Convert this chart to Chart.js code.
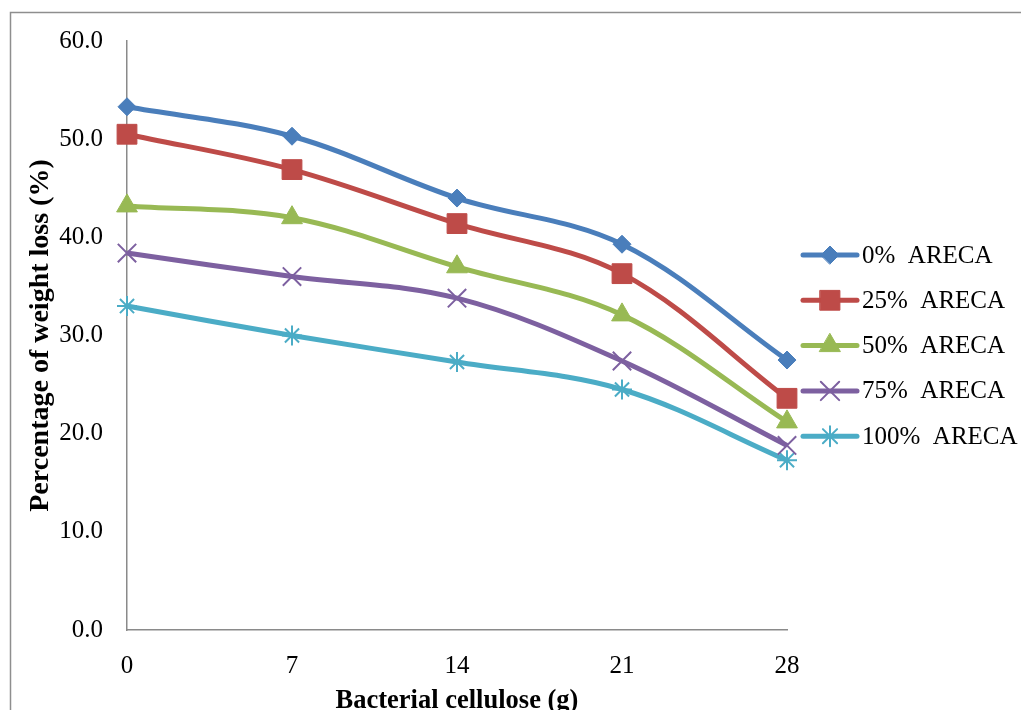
<!DOCTYPE html>
<html>
<head>
<meta charset="utf-8">
<script src="https://cdn.jsdelivr.net/npm/chart.js@4.4.1/dist/chart.umd.min.js"></script>
<style>
  html, body { margin: 0; padding: 0; background: #fff; }
  #wrap { position: relative; width: 1021px; height: 710px; }
</style>
</head>
<body>
<div id="wrap"><canvas id="c" width="1021" height="710"></canvas></div>
<script>
// Bacterial cellulose amounts (g)
const categories = ['0', '7', '14', '21', '28'];

// Weight loss (%) for each ARECA level
const areca0   = [53.3, 50.3, 44.0, 39.3, 27.5];
const areca25  = [50.5, 46.9, 41.4, 36.3, 23.6];
const areca50  = [43.2, 42.0, 37.0, 32.1, 21.2];
const areca75  = [38.4, 36.0, 33.8, 27.4, 18.8];
const areca100 = [33.0, 30.0, 27.3, 24.5, 17.3];

const seriesNames = ['0% ARECA', '25% ARECA', '50% ARECA', '75% ARECA', '100% ARECA'];
const yTicks = [0, 10, 20, 30, 40, 50, 60];

const FONT = '"Liberation Serif", "Times New Roman", serif';

const styles = [
  { color: '#4A7EBB', point: 'rectRot',  radius: 9,  border: 1 },
  { color: '#BE4B48', point: 'rect',     radius: 14, border: 1 },
  { color: '#98B954', point: 'triangle', radius: 12, border: 1 },
  { color: '#7D60A0', point: 'crossRot', radius: 13, border: 2 },
  { color: '#4BACC6', point: 'star',     radius: 10, border: 2 }
];

const seriesData = [areca0, areca25, areca50, areca75, areca100];

const datasets = seriesData.map((d, i) => ({
  label: seriesNames[i],
  data: d,
  borderColor: styles[i].color,
  backgroundColor: styles[i].color,
  borderWidth: 5,
  tension: 0.35,
  pointStyle: styles[i].point,
  pointRadius: styles[i].radius,
  pointHoverRadius: styles[i].radius,
  pointBorderWidth: styles[i].border,
  pointBackgroundColor: styles[i].color,
  pointBorderColor: styles[i].color
}));

// Outer frame of the figure
const framePlugin = {
  id: 'frame',
  beforeDraw(chart) {
    const ctx = chart.ctx;
    ctx.save();
    ctx.strokeStyle = '#8E8E8E';
    ctx.lineWidth = 1.5;
    ctx.beginPath();
    ctx.moveTo(10.5, 712);
    ctx.lineTo(10.5, 12.5);
    ctx.lineTo(1030, 12.5);
    ctx.stroke();
    ctx.restore();
  }
};

// Legend on the right: line sample with marker, then label
const sideLegend = {
  id: 'sideLegend',
  afterDraw(chart) {
    const ctx = chart.ctx;
    const x0 = 803, x1 = 857, tx = 862, y0 = 255, dy = 45.3;
    chart.data.datasets.forEach((ds, i) => {
      const y = y0 + i * dy;
      ctx.save();
      ctx.strokeStyle = ds.borderColor;
      ctx.lineWidth = 5;
      ctx.lineCap = 'round';
      ctx.beginPath();
      ctx.moveTo(x0, y);
      ctx.lineTo(x1, y);
      ctx.stroke();
      ctx.fillStyle = ds.pointBackgroundColor;
      ctx.strokeStyle = ds.pointBorderColor;
      ctx.lineWidth = ds.pointBorderWidth;
      Chart.helpers.drawPoint(ctx, { pointStyle: ds.pointStyle, radius: ds.pointRadius, rotation: 0, borderWidth: ds.pointBorderWidth }, (x0 + x1) / 2, y);
      ctx.fillStyle = '#000';
      ctx.font = '25px ' + FONT;
      ctx.textBaseline = 'middle';
      ctx.textAlign = 'left';
      ctx.fillText(ds.label.replace(' ', '\u2002'), tx, y + 1);
      ctx.restore();
    });
  }
};

new Chart(document.getElementById('c'), {
  type: 'line',
  data: { labels: categories, datasets },
  plugins: [framePlugin, sideLegend],
  options: {
    responsive: false,
    animation: false,
    layout: { padding: { top: 41, right: 234, bottom: 0, left: 24 } },
    plugins: {
      legend: { display: false },
      tooltip: { enabled: false }
    },
    scales: {
      x: {
        type: 'category',
        offset: false,
        grid: { display: false, drawTicks: false },
        border: { display: true, color: '#8A8A8A', width: 1.5 },
        ticks: { color: '#000', font: { family: FONT, size: 25 }, padding: 21, maxRotation: 0 },
        title: {
          display: true,
          text: 'Bacterial cellulose (g)',
          color: '#000',
          font: { family: FONT, size: 26.5, weight: 'bold' },
          padding: { top: 0, bottom: -7 }
        },
        afterFit(scale) { scale.height = 80; }
      },
      y: {
        min: 0,
        max: 60,
        afterBuildTicks(scale) { scale.ticks = yTicks.map(v => ({ value: v })); },
        grid: { display: false, drawTicks: false },
        border: { display: true, color: '#8A8A8A', width: 1.5 },
        ticks: {
          color: '#000',
          font: { family: FONT, size: 25 },
          padding: 24,
          callback: v => Number(v).toFixed(1)
        },
        title: {
          display: true,
          text: 'Percentage of weight loss (%)',
          color: '#000',
          font: { family: FONT, size: 28, weight: 'bold' },
          padding: { top: 0, bottom: 0 }
        },
        afterFit(scale) { scale.width = 103; }
      }
    }
  }
});
</script>
</body>
</html>
